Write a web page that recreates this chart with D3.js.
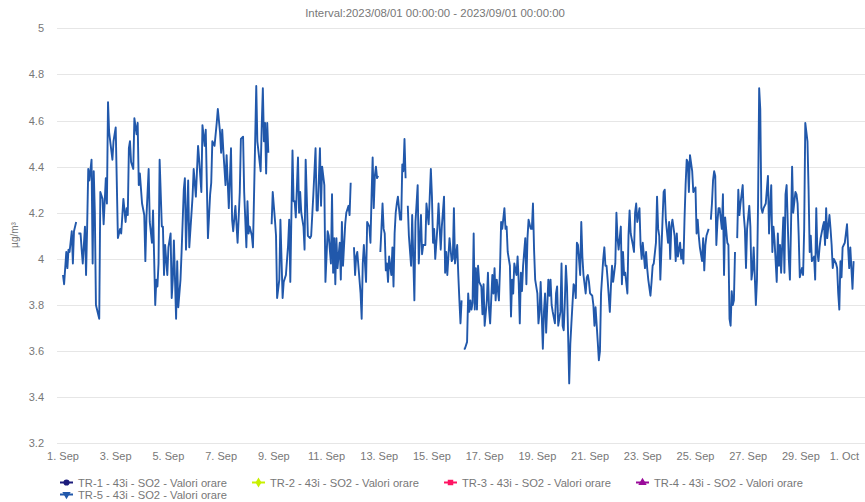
<!DOCTYPE html>
<html>
<head>
<meta charset="utf-8">
<script src="https://cdn.jsdelivr.net/npm/d3@7"></script>
<style>
  body { margin: 0; background: #fff; }
  svg { display: block; font-family: "Liberation Sans", Arial, sans-serif; }
</style>
</head>
<body>
<div id="chart"></div>
<script>
// title + series names
var title = "Interval:2023/08/01 00:00:00 - 2023/09/01 00:00:00";
var seriesNames = [
  "TR-1 - 43i - SO2 - Valori orare",
  "TR-2 - 43i - SO2 - Valori orare",
  "TR-3 - 43i - SO2 - Valori orare",
  "TR-4 - 43i - SO2 - Valori orare",
  "TR-5 - 43i - SO2 - Valori orare"
];
var seriesColors = ["#1c1c7c", "#c8f000", "#ff1463", "#9a0a9a", "#2158ab"];
var seriesSymbols = ["circle", "diamond", "square", "triangle", "triangledown"];
var yTicks = [3.2, 3.4, 3.6, 3.8, 4, 4.2, 4.4, 4.6, 4.8, 5];

// TR-5 hourly values, [hours since 1 Sep 00:00, µg/m³]; null = missing hour
var tr5 = [
[0,3.93],[1,3.89],[3,4.03],[4,3.96],[5,4.04],[6,4.03],[8,4.12],[9,3.98],[10,4.12],[12,4.16],[13,null],
[14,4.11],[16,4.11],[17,4.04],[18,3.98],[20,4.14],[21,3.93],[22,4.14],[23,4.39],[24,4.34],[26,4.43],
[27,3.98],[28,4.38],[29,4.20],[30,3.80],[33,3.74],[34,4.29],[36,4.26],[37,4.15],[39,4.35],[40,4.24],
[41,4.68],[42,4.55],[45,4.43],[46,4.51],[48,4.57],[50,4.09],[52,4.13],[53,4.11],[55,4.26],[57,4.16],
[58,4.22],[59,4.19],[60,4.48],[61,4.51],[62,4.42],[64,4.39],[65,4.61],[67,4.54],[68,4.59],[69,4.32],
[70,4.37],[72,4.24],[74,4.19],[75,3.99],[76,4.18],[78,4.39],[79,4.16],[81,4.07],[82,4.21],[84,3.80],
[85,3.91],[86,3.88],[87,3.98],[88,4.43],[90,4.14],[91,4.14],[92,3.93],[93,4.06],[95,3.93],[96,4.05],
[98,4.11],[99,3.83],[100,3.91],[101,4.08],[103,3.74],[104,3.99],[105,3.79],[107,3.91],[108,4.03],
[110,4.30],[111,4.35],[112,4.04],[114,4.34],[115,4.05],[118,4.27],[119,4.39],[121,4.27],[122,4.38],
[123,4.49],[124,4.43],[126,4.29],[127,4.58],[129,4.49],[130,4.56],[132,4.09],
[134,4.28],[135,4.33],[136,4.51],[138,4.49],[140,4.59],[141,4.65],[143,4.55],[144,4.46],[145,4.56],
[146,4.47],[148,4.32],[149,4.45],[151,4.22],[153,4.48],[154,4.17],[155,4.12],[157,4.23],[159,4.07],
[161,4.29],[162,4.52],[164,4.53],[165,4.29],[167,4.05],[168,4.25],[169,4.11],[170,4.14],[172,4.10],
[173,4.05],[175,4.51],[176,4.75],[177,4.51],[180,4.38],[181,4.58],[182,4.74],[183,4.51],[184,4.59],
[185,4.37],[186,4.59],[187,4.46],[188,null],
[190,4.15],[191,4.29],[193,4.17],[194,4.10],[195,3.83],[197,3.91],[198,4.17],[200,3.83],[201,3.90],
[203,3.93],[205,4.06],[206,4.17],[207,3.90],[209,4.47],[210,4.25],[211,4.25],[212,4.18],[214,4.44],
[215,4.20],[216,4.29],[217,4.20],[219,4.14],[220,4.04],[221,4.43],[222,4.27],[223,4.10],[225,4.09],
[226,4.10],[228,4.28],[230,4.48],[231,4.21],[232,4.21],[234,4.48],[235,4.23],[236,4.40],[238,4.32],
[239,3.90],[241,4.12],[242,4.10],[244,3.98],[245,4.28],[246,3.94],[247,4.09],[248,3.89],[249,4.09],
[250,3.96],[252,4.07],[253,3.91],[254,4.16],[255,3.97],[257,4.15],[258,4.20],[260,4.23],[261,4.19],
[262,4.33],[263,null],
[265,4.05],[266,3.93],[267,4.01],[268,4.03],[269,3.97],[271,3.85],[272,3.74],[273,3.98],[274,4.06],
[276,3.90],[277,4.16],[279,4.14],[280,4.07],[281,4.27],[282,4.44],[283,4.22],[284,4.36],[285,4.40],
[286,4.35],[287,4.36],[288,null],
[289,4.03],[290,4.13],[291,4.24],[292,4.13],[293,4.11],[294,3.95],[295,3.98],[296,3.90],[297,4.01],
[299,3.93],[300,4.05],[301,3.88],[302,4.11],[303,4.20],[304,4.24],[305,4.27],[307,4.17],[308,4.17],
[309,4.41],[310,4.38],[311,4.52],[312,4.35],[313,null],
[314,4.23],[315,4.10],[317,3.97],[318,4.19],[320,3.82],[321,4.16],[323,4.32],[324,3.98],[326,4.19],
[327,4.02],[328,4.06],[330,4.06],[331,4.24],[333,4.15],[334,4.27],[335,4.39],[336,4.27],[337,4.07],
[338,4.13],[339,4.00],[341,4.14],[342,4.24],[344,4.04],[345,4.14],[347,4.27],[348,3.94],[349,4.03],
[350,3.93],[352,4.09],[353,4.04],[354,3.99],[355,4.00],[356,4.22],[357,3.98],[359,4.06],[360,3.93],
[361,3.82],[362,3.72],[363,3.82],[364,null],
[365,3.61],[366,3.61],[368,3.64],[369,3.85],[370,3.77],[371,3.82],[372,3.78],[373,3.81],[374,4.11],
[375,3.78],[376,3.96],[377,3.78],[378,3.97],[379,3.90],[381,3.88],[382,3.76],[383,3.89],[384,3.71],
[386,3.82],[387,3.94],[388,3.78],[389,3.72],[391,3.93],[392,3.85],[393,3.96],[394,3.82],[395,3.91],
[397,3.82],[398,3.96],[399,4.16],[400,4.13],[402,4.22],[403,4.13],[404,4.14],[405,4.03],[407,3.97],
[408,3.75],[409,3.91],[410,3.85],[411,3.98],[413,3.93],[414,4.01],[415,3.90],[416,3.72],[417,3.94],
[418,3.86],[419,3.97],[421,4.09],[422,3.89],[423,4.09],[424,4.17],[426,4.13],
[427,4.13],[428,4.24],[429,4.04],[430,3.91],[432,3.85],[433,3.72],[434,3.77],[435,3.90],[437,3.61],
[438,3.77],[439,3.85],[440,3.68],[442,3.91],[443,3.84],[444,3.91],[445,3.80],[446,3.77],[448,3.72],
[449,3.85],[450,3.88],[451,3.71],[453,3.77],[454,3.98],[455,3.71],[456,3.69],[457,3.81],[458,3.97],
[459,3.88],[460,3.67],[461,3.46],[462,3.63],[463,3.72],[465,3.89],[466,3.88],[467,3.83],[468,4.07],
[469,4.06],[471,3.93],[472,4.16],[473,4.01],[474,3.93],[476,3.85],[477,3.92],[478,3.93],[479,3.90],
[480,3.85],[482,3.84],[483,3.80],[484,3.71],[485,3.79],[487,3.64],[488,3.56],[489,3.60],[490,3.85],
[492,4.00],[493,4.05],[494,3.97],[495,3.97],[496,3.91],[498,3.77],[499,3.88],[500,3.97],[501,3.90],
[503,3.98],[504,4.20],[505,4.09],[506,4.04],[508,4.14],[509,3.89],[510,4.03],[511,3.93],[512,3.94],
[514,3.85],[515,4.10],[516,4.21],[517,4.11],[519,4.06],[520,4.03],[521,4.20],[522,4.24],[523,4.16],
[525,4.22],[526,4.06],[527,4.00],[528,4.07],[530,3.96],[531,4.03],[532,3.96],[533,3.91],[535,3.84],
[536,3.90],[537,3.97],[538,3.98],[540,4.07],[541,4.27],[542,4.13],[543,4.10],[544,3.91],[546,4.17],
[547,4.29],[548,4.30],[549,4.17],[551,4.07],[552,4.16],[553,4.00],[554,4.14],[555,4.17],[557,4.10],
[558,3.99],[559,4.11],[560,4.01],[562,4.07],[563,4.00],[564,4.04],[565,3.98],[566,4.17],[567,4.32],
[568,4.43],[569,4.42],[570,4.29],
[571,4.45],[573,4.38],[574,4.29],[576,4.31],[577,4.11],[578,4.17],[579,4.10],[580,4.05],[582,3.99],
[583,4.09],[584,3.95],[585,4.06],[586,4.10],[588,4.13],[589,null],
[590,4.17],[591,4.24],[592,4.34],[593,4.38],[594,4.36],[595,4.06],[596,4.16],[597,4.22],[598,4.22],
[600,4.13],[601,4.28],[602,3.93],[603,4.18],[605,4.07],[606,4.06],[607,3.74],[608,3.71],[609,3.86],
[610,3.80],[611,3.82],[612,4.03],[613,null],
[614,4.09],[615,4.30],[616,4.19],[617,4.24],[619,4.32],[620,4.19],[621,4.13],[622,3.96],[623,4.13],
[625,4.23],[626,4.14],[627,3.91],[628,3.95],[629,4.05],[631,3.80],[632,3.91],[633,4.24],[634,4.74],
[635,4.65],[636,4.22],[637,4.20],[638,4.22],[639,4.23],[640,4.24],[642,4.36],[643,4.11],[644,4.23],
[645,4.32],[646,4.03],[647,4.14],[648,4.08],[650,3.90],[651,4.11],[652,3.97],[653,4.06],[654,3.94],
[656,4.18],[657,3.94],[658,4.28],[659,4.32],[661,4.00],[662,3.91],[663,4.14],[664,4.40],[665,4.20],
[667,4.29],[668,4.28],[669,4.24],[670,4.10],[671,3.92],[673,3.96],[674,3.93],[675,4.13],[676,4.59],
[678,4.51],[679,4.30],[680,4.03],[681,4.10],[682,3.99],[684,4.01],[685,3.91],[686,4.22],[687,4.03],
[688,3.99],[689,4.05],[690,4.09],[692,4.14],[693,4.16],[694,4.06],[695,4.22],[696,4.09],[698,4.19],
[699,4.13],[700,4.06],[701,3.96],[702,4.00],[704,3.98],[705,3.96],[706,3.85],[707,3.78],[708,3.99],
[709,3.92],[710,4.05],[711,4.06],[712,4.07],[714,4.15],[715,4.05],[716,3.96],[717,4.05],[718,3.96],
[719,3.87],[720,3.99]
];

var width = 865, height = 502;
var margin = {left: 57, right: 0, top: 28.3, bottom: 443.3};
var t0 = Date.UTC(2023, 8, 1), t1 = Date.UTC(2023, 9, 1);

var svg = d3.select("#chart").append("svg")
    .attr("width", width)
    .attr("height", height);

var x = d3.scaleUtc().domain([t0, t1]).range([63, 853.6]);
var y = d3.scaleLinear().domain([3.2, 5]).range([443.3, 28.3]);

// title
svg.append("text")
    .attr("x", 435).attr("y", 17)
    .attr("text-anchor", "middle")
    .attr("font-size", 11.4)
    .attr("fill", "#777")
    .text(title);

// grid + y labels
var gy = svg.append("g");
gy.selectAll("line").data(yTicks).enter().append("line")
    .attr("x1", margin.left).attr("x2", width)
    .attr("y1", function(d){ return Math.round(y(d)) + 0.5; })
    .attr("y2", function(d){ return Math.round(y(d)) + 0.5; })
    .attr("stroke", "#e6e6e6");
gy.selectAll("text").data(yTicks).enter().append("text")
    .attr("x", 44)
    .attr("y", function(d){ return y(d) + 4; })
    .attr("text-anchor", "end")
    .attr("font-size", 11)
    .attr("fill", "#777")
    .text(function(d){ return String(+d.toFixed(1)); });

svg.append("text")
    .attr("transform", "translate(18,235) rotate(-90)")
    .attr("text-anchor", "middle")
    .attr("font-size", 10)
    .attr("fill", "#777")
    .text("µg/m³");

// x axis labels
var xTicks = x.ticks(d3.utcDay.every(2));
var fmt = d3.utcFormat("%-d. %b");
svg.append("g").selectAll("text").data(xTicks).enter().append("text")
    .attr("x", function(d){ return x(d); })
    .attr("y", 460)
    .attr("text-anchor", "middle")
    .attr("font-size", 11)
    .attr("fill", "#777")
    .text(function(d){ return fmt(d); })
    .each(function(){
        var b = this.getBBox();
        if (b.x + b.width > width - 6) d3.select(this).attr("x", width - 6 - b.width / 2);
    });

// the line
var line = d3.line()
    .defined(function(d){ return d[1] !== null; })
    .x(function(d){ return x(t0 + d[0] * 3600000); })
    .y(function(d){ return y(d[1]); });

svg.append("path")
    .datum(tr5)
    .attr("fill", "none")
    .attr("stroke", seriesColors[4])
    .attr("stroke-width", 1.9)
    .attr("stroke-linejoin", "round")
    .attr("d", line);

// legend
var symbolTypes = {
    circle: d3.symbolCircle, diamond: d3.symbolDiamond, square: d3.symbolSquare,
    triangle: d3.symbolTriangle, triangledown: d3.symbolTriangle
};
var legendPos = [[60, 482.5], [252, 482.5], [444, 482.5], [636, 482.5], [60, 494.5]];
var legend = svg.append("g").selectAll("g").data(seriesNames).enter().append("g")
    .attr("transform", function(d, i){ return "translate(" + legendPos[i][0] + "," + legendPos[i][1] + ")"; });
legend.append("line")
    .attr("x1", 0).attr("x2", 13).attr("y1", 0).attr("y2", 0)
    .attr("stroke", function(d, i){ return seriesColors[i]; })
    .attr("stroke-width", 2);
legend.append("path")
    .attr("transform", function(d, i){
        return "translate(6.5,0)" + (seriesSymbols[i] == "triangledown" ? " rotate(180)" : "");
    })
    .attr("d", function(d, i){ return d3.symbol().type(symbolTypes[seriesSymbols[i]]).size(30)(); })
    .attr("fill", function(d, i){ return seriesColors[i]; });
legend.append("text")
    .attr("x", 18).attr("y", 4)
    .attr("font-size", 11.2)
    .attr("fill", "#777")
    .text(function(d){ return d; });
</script>
</body>
</html>
